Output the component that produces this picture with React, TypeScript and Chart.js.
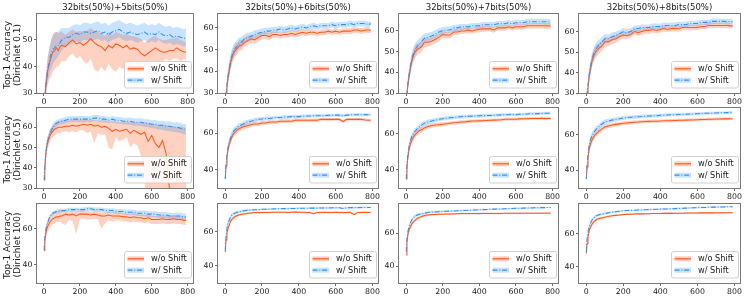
import React, { useEffect, useRef } from "react";
import { Chart, registerables } from "chart.js";

Chart.register(...registerables);

// ---------- data ----------
const ROUNDS = [1, 5, 10, 15, 20, 30, 40, 50, 60, 70, 80, 90, 100,
  120, 140, 160, 180, 200, 220, 240, 260, 280, 300,
  320, 340, 360, 380, 400, 420, 440, 460, 480, 500,
  520, 540, 560, 580, 600, 620, 640, 660, 680, 700,
  720, 740, 760, 780, 790];

const X_TICKS = [0, 200, 400, 600, 800];
const TITLES = ["32bits(50%)+5bits(50%)", "32bits(50%)+6bits(50%)", "32bits(50%)+7bits(50%)", "32bits(50%)+8bits(50%)"];
const ROW_LABELS = [["Top-1 Accuracy", "(Dirichlet 0.1)"], ["Top-1 Accuracy", "(Dirichlet 0.5)"], ["Top-1 Accuracy", "(Dirichlet 100)"]];
const SERIES_NAMES = ["w/o Shift", "w/ Shift"];

// Row 1 (Dirichlet 0.1)
const R1C1_WO = [25, 28, 32, 35, 38, 41, 43.5, 45.5, 46, 47, 46, 47.5, 48,
  47.5, 49, 50, 48.5, 49, 48, 49, 50.5, 49, 48,
  47.5, 46, 48, 47, 48.5, 48, 47, 48, 46.5, 47,
  46.5, 45, 44, 45, 46, 47, 46, 45.5, 45.5, 46,
  46, 47, 46, 45.5, 45.5];
const R1C1_WO_LO = [20, 24, 28, 31, 33, 35, 36, 38, 39, 40, 40, 41, 42,
  42, 44, 45, 43, 44, 42, 41, 43, 39, 38,
  40, 38, 41, 39, 38, 40, 39, 41, 40, 42,
  40, 41, 40, 41, 42, 42, 41, 42, 43, 42,
  43, 43, 42, 43, 42];
const R1C1_WO_HI = [30, 32, 36, 39, 43, 47, 50, 52, 53, 53, 52.5, 53, 53,
  52, 53, 54, 53, 53.5, 53, 53.5, 54.5, 53.5, 53,
  52.5, 51.5, 53, 52, 53, 52.5, 52, 52.5, 51.5, 51.5,
  51, 50.5, 49, 50, 51, 51.5, 50.5, 50, 50, 50.5,
  50.5, 51, 50, 49.5, 49];
const R1C1_W = [25, 28.5, 32.5, 35.5, 38.5, 42, 45, 46.5, 47, 48, 48, 49, 50,
  51, 51, 52, 52.5, 52, 53, 53, 52.5, 53, 53.5,
  52.5, 53, 52, 53, 53.5, 54, 53, 52.5, 53, 52.5,
  52, 52.5, 53, 52, 52.5, 52, 53, 52, 51.5, 52,
  51, 51.5, 51, 50.5, 51];
const R1C1_W_LO = [21, 25, 29, 32, 34, 37, 39, 41, 42, 43, 44, 45, 46,
  47.5, 48, 49, 49.5, 49, 50, 50, 49.5, 50, 50.5,
  49.5, 50, 49, 50, 50.5, 51, 50, 49.5, 50, 49.5,
  49, 49.5, 50, 49, 49.5, 49, 50, 49, 48.5, 49,
  48, 48.5, 48, 47.5, 48];
const R1C1_W_HI = [29, 32, 36, 39, 43, 47, 50, 52, 52.5, 53, 53, 54, 54.5,
  54.5, 54.5, 55.5, 56, 55.5, 56.5, 56.5, 56, 56.5, 57,
  56, 56.5, 55.5, 56.5, 57, 57.5, 56.5, 56, 56.5, 56,
  55.5, 56, 56.5, 55.5, 56, 55.5, 56.5, 55.5, 55, 55.5,
  54.5, 55, 54.5, 54, 54.5];

const R1C2_WO = [24, 29, 33, 36.5, 39, 44, 47, 49, 50, 51, 52, 52, 53,
  54, 55, 54.5, 55.5, 56.5, 56.5, 56, 57, 57, 56.5,
  57, 57, 57.5, 57, 57.5, 58, 57.5, 58, 58, 57.5,
  58, 58, 58.5, 58, 58.5, 58, 58.5, 58.5, 58.5, 59,
  59, 58.5, 59, 59, 58.8];
const R1C2_W = [24, 29.5, 33.5, 37.5, 40, 45, 48, 50, 51, 52.5, 53, 53.5, 54.5,
  55.5, 56, 57, 57.5, 58, 58.5, 58.5, 59, 59, 59.5,
  59, 59.5, 60, 59.5, 60, 60.5, 60, 60.5, 61, 60.5,
  61, 61, 61, 61.5, 61, 61.5, 61.5, 61.5, 62, 61.5,
  62, 62, 62, 61.5, 62];
const R1C3_WO = [24, 30, 34, 37, 40, 45, 48, 50, 51, 51.5, 52, 53, 54.5,
  54.5, 55, 56, 57, 58.3, 58, 58, 59.5, 59.5, 60,
  60, 60.5, 60, 60.5, 60.8, 61, 61, 61, 60.5, 61.5,
  61.5, 61.5, 62, 61.5, 62, 62, 62, 62.5, 62.5, 62.5,
  62.5, 62.5, 62.5, 62.5, 62.4];
const R1C3_W = [24, 30.5, 34.5, 38, 41, 46, 49, 51, 52.5, 53.5, 54.5, 55.5, 56.5,
  57, 57.5, 58.5, 59.5, 60.2, 60.5, 60.5, 61.5, 61.5, 62,
  62, 62, 62.5, 62.5, 62.5, 63, 63, 63, 63, 63.5,
  63.5, 63.5, 64, 63.5, 64, 64, 64, 64.5, 64.5, 64.5,
  64.5, 64.5, 64.5, 64.5, 64.2];
const R1C4_WO = [24, 29.5, 33, 37, 40, 45, 48, 50, 51, 52, 52.5, 53.5, 55,
  55, 56, 56.5, 57.5, 58.3, 58, 58.5, 60, 59.5, 60,
  60.5, 60.5, 61, 60.5, 61, 61.5, 61, 61.5, 61.5, 61.5,
  62, 62, 62, 62, 62, 62.5, 62.5, 63, 63, 63,
  63, 63, 63, 62.8, 62.8];
const R1C4_W = [24, 30, 34, 38, 41, 46, 49, 51, 52.5, 53.5, 54.5, 55.5, 56.5,
  56.5, 57.5, 58, 59, 60, 59.5, 60, 61.5, 61.5, 62,
  62, 62, 62.5, 62.5, 62.5, 63, 63, 63, 63, 63.5,
  63.5, 63.5, 64, 64, 64, 64.5, 64.5, 64.5, 65, 65,
  65, 65, 64.8, 65, 64.8];
const ERR_R1 = [2, 2.5, 3, 3, 3, 3, 3, 3, 2.8, 2.6, 2.5, 2.4, 2.3,
  2.1, 2, 1.9, 1.8, 1.7, 1.6, 1.6, 1.5, 1.5, 1.5,
  1.4, 1.5, 1.4, 1.4, 1.5, 1.4, 1.3, 1.4, 1.4, 1.3,
  1.3, 1.4, 1.3, 1.3, 1.4, 1.3, 1.3, 1.3, 1.4, 1.3,
  1.3, 1.3, 1.4, 1.3, 1.3];

// Row 2 (Dirichlet 0.5)
const R2C1_WO = [34, 40, 46, 50, 52, 55, 57, 58, 59, 59.5, 60, 60, 60,
  60.5, 60.5, 61, 60.5, 61, 61.5, 61, 61.5, 60.5, 61,
  60, 60.5, 59.5, 58, 59, 58, 58.5, 59, 57, 58.5,
  57.5, 56.5, 57.5, 53, 56, 52, 50, 53.5, 47, 28,
  20, 16, 13, 11, 10];
const R2C1_WO_LO = [32, 37, 43, 47, 49, 52, 54, 55, 56, 56.5, 57, 57, 57.5,
  58, 57.5, 58, 57.5, 58.5, 58.5, 57, 58, 52, 57,
  56, 56.5, 50, 49, 55, 53, 54, 55, 50, 52,
  51, 46, 36, 0, 0, 0, 0, 0, 0, 0,
  0, 0, 0, 0, 0];
const R2C1_WO_HI = [36, 43, 49, 53, 55, 58, 60, 61, 62, 62.5, 63, 63, 63.5,
  63.5, 63.5, 64, 63.5, 64, 64, 63.5, 64, 63.5, 63.5,
  63.5, 63.5, 63, 63, 63, 62.5, 62.5, 63, 62.5, 62.5,
  62.5, 62, 62.5, 62, 61.5, 61.5, 61, 61.5, 61, 60.5,
  60.5, 60, 60.5, 60, 59.5];
const R2C1_W = [34, 40, 46.5, 50.5, 53, 56, 58, 60, 61, 62, 62.5, 63, 63,
  63.5, 64, 64, 64, 64, 64, 64, 64, 64.5, 64.5,
  64, 64, 63.5, 64, 63.5, 63.5, 63, 63, 63, 62.5,
  62.5, 62.5, 62, 62, 61.5, 61.5, 61, 61, 60.5, 60.5,
  60, 60, 59.5, 59, 59];
const ERR_R2C1_W = [2, 3, 3, 2.5, 2.5, 2, 2, 2, 1.8, 1.6, 1.5, 1.5, 1.5,
  1.5, 1.4, 1.5, 1.4, 1.5, 1.5, 1.4, 1.5, 1.5, 1.5,
  1.5, 1.6, 1.5, 1.6, 1.6, 1.7, 1.7, 1.7, 1.8, 1.8,
  1.8, 1.9, 1.9, 2, 2, 2.1, 2.1, 2.2, 2.3, 2.4,
  2.4, 2.5, 2.5, 2.6, 2.6];

const R2C2_WO = [35, 42, 47, 50.5, 53, 56, 58.5, 60, 61, 62, 62.5, 63, 63.5,
  64, 64.5, 65, 65, 65.5, 65.5, 66, 66, 66, 66.5,
  66.5, 66.5, 66.5, 67, 67, 67, 67, 67, 67, 67,
  67.5, 67.5, 67.5, 67.5, 67.5, 67.5, 66.3, 67.5, 67.5, 67.5,
  67.5, 67.5, 67.2, 67, 67];
const R2C2_W = [35, 43, 48, 51.5, 54, 57.5, 60, 61.5, 62.5, 63.5, 64, 64.5, 65,
  66, 66.5, 67, 67.5, 67.7, 68, 68, 68.3, 68.5, 68.5,
  68.7, 68.8, 69, 69, 69, 69.2, 69.3, 69.3, 69.5, 69.5,
  69.5, 69.5, 69.7, 69.7, 69.8, 69.8, 69.5, 69.8, 70, 70,
  70, 70, 70.1, 70, 70];
const R2C3_WO = [35, 42, 47, 50.5, 53, 56, 58, 59.5, 60.5, 61.5, 62, 62.5, 63.2,
  64, 64.5, 64.8, 65, 65.2, 65.5, 65.8, 66, 66.2, 66.5,
  66.5, 66.8, 67, 67, 67.1, 67.2, 67.3, 67.4, 67.5, 67.6,
  67.7, 68, 68, 68, 68, 68.2, 68.3, 68.3, 68.4, 68.4,
  68.4, 68.5, 68.4, 68.4, 68.4];
const R2C3_W = [35, 43, 48, 52, 55, 58, 60, 61.5, 62.5, 63.5, 64.5, 65, 65.8,
  66.5, 67, 67.5, 68, 68.3, 68.5, 68.8, 69, 69.2, 69.4,
  69.5, 69.6, 69.7, 69.8, 69.9, 70, 70, 70.1, 70.2, 70.3,
  70.4, 70.5, 70.5, 70.6, 70.5, 70.7, 70.8, 70.9, 71, 71,
  71.1, 71.2, 71.3, 71.3, 71.4];
const R2C4_WO = [35, 42, 47, 51, 53.5, 56.5, 58.5, 60, 61, 62, 62.8, 63.5, 64.2,
  64.8, 65.3, 65.7, 66, 66.3, 66.5, 66.7, 66.9, 67, 67.2,
  67.3, 67.4, 67.5, 67.5, 67.6, 67.7, 67.8, 67.8, 67.9, 68,
  68, 68.1, 68.2, 68.2, 68.3, 68.4, 68.5, 68.6, 68.6, 68.7,
  68.7, 68.8, 68.8, 68.9, 68.9];
const R2C4_W = [35, 43, 48.5, 53, 56, 59, 61, 62.5, 63.5, 64.5, 65.5, 66.2, 67,
  67.6, 68.1, 68.5, 68.9, 69.3, 69.5, 69.7, 69.9, 70, 70.1,
  70.3, 70.4, 70.5, 70.6, 70.8, 70.9, 71, 71.1, 71.1, 71.2,
  71.3, 71.4, 71.5, 71.6, 71.7, 71.8, 71.9, 72, 72, 72.1,
  72.2, 72.2, 72.3, 72.4, 72.4];
const ERR_R2 = [2, 2.5, 2.5, 2.5, 2.3, 2, 1.8, 1.7, 1.6, 1.5, 1.5, 1.4, 1.4,
  1.3, 1.2, 1.2, 1.1, 1.1, 1.1, 1, 1, 1, 1,
  1, 1, 0.9, 1, 0.9, 0.9, 0.9, 0.9, 0.9, 0.9,
  0.9, 0.8, 0.9, 0.8, 0.8, 0.9, 0.8, 0.8, 0.8, 0.8,
  0.8, 0.8, 0.8, 0.8, 0.8];

// Row 3 (Dirichlet 100)
const R3C1_WO = [48, 53, 57, 59.5, 61, 63, 64.5, 65.5, 66, 66.5, 66.5, 67, 67,
  68, 67.5, 68, 67, 68, 68, 68, 67.5, 68, 67.5,
  67, 67, 67.5, 67, 67, 67, 66.5, 66.5, 66, 66.5,
  66, 66, 65.5, 66, 65, 65, 65, 65.5, 65, 65,
  65.5, 65, 65, 64.5, 64.5];
const R3C1_WO_LO = [46, 50, 54, 56.5, 58, 60, 61.5, 62.5, 63, 63.5, 63.5, 64, 63,
  62, 65, 64, 57, 65.5, 65.5, 65, 65, 65.5, 65,
  60, 63, 64.5, 64, 64.5, 64.5, 64, 64, 63.5, 64,
  63.5, 63.5, 63, 63.5, 62.5, 62.5, 62.5, 63, 62.5, 62.5,
  63, 62.5, 62.5, 62, 62];
const R3C1_WO_HI = [50, 56, 60, 62.5, 64, 66, 67.5, 68.5, 69, 69.5, 69.5, 70, 70,
  70, 69.5, 70, 69.5, 70, 70, 70, 69.5, 70, 69.5,
  69, 69, 69.5, 69, 69, 69, 68.5, 68.5, 68, 68.5,
  68, 68, 67.5, 68, 67, 67, 67, 67.5, 67, 67,
  67.5, 67, 67, 66.5, 66.5];
const R3C1_W = [48, 55, 59, 61.5, 63, 66, 67.5, 68.5, 69, 69.5, 69.5, 70, 70,
  70, 70.5, 70.5, 70.5, 70.5, 70.5, 71, 71, 70.5, 70.5,
  70.5, 70, 70, 70, 69.5, 69.5, 69.5, 69, 69, 69,
  68.5, 68.5, 68.5, 68, 68, 68, 67.5, 67.5, 67.5, 67,
  67, 67, 67, 66.5, 66.5];
const ERR_R3C1_W = [1, 1.5, 1.5, 1.3, 1.2, 1, 1, 1, 1, 1, 1, 1, 1,
  1, 1, 1, 1, 1, 1.1, 1.1, 1.1, 1.1, 1.2,
  1.2, 1.2, 1.3, 1.3, 1.3, 1.4, 1.4, 1.4, 1.5, 1.5,
  1.5, 1.5, 1.6, 1.6, 1.6, 1.7, 1.7, 1.7, 1.8, 1.8,
  1.8, 1.8, 1.9, 1.9, 1.9];

const R3C2_WO = [48, 55, 59, 61.5, 63, 66, 67.5, 68.5, 69, 69.5, 69.8, 70, 70.2,
  70.5, 70.8, 71, 71, 71, 71.1, 71.1, 71.2, 71.2, 71.2,
  71.2, 71.1, 71.2, 71.3, 71.2, 71.2, 71.1, 71.1, 70.3, 71.1,
  71.1, 71.2, 71.1, 71.1, 71.2, 71.1, 71.1, 71.1, 71.2, 69.8,
  71.1, 71.1, 71.2, 71.1, 71.1];
const R3C2_W = [49, 57, 62, 64.5, 66, 68.5, 70, 70.5, 71, 71.3, 71.5, 71.8, 72,
  72.3, 72.5, 72.6, 72.7, 72.9, 73, 73, 73.1, 73.2, 73.2,
  73.3, 73.3, 73.4, 73.4, 73.5, 73.5, 73.5, 73.6, 73.6, 73.6,
  73.7, 73.7, 73.7, 73.8, 73.8, 73.8, 73.4, 73.8, 73.9, 73.9,
  73.9, 74, 74, 74, 74];
const R3C3_WO = [47, 55, 59, 61.5, 63, 65.5, 67, 68, 69, 69.5, 70, 70.4, 70.8,
  71.2, 71.4, 71.5, 71.6, 71.6, 71.7, 71.8, 71.8, 71.9, 72,
  72, 72, 72, 72, 72, 72.1, 72.1, 72.1, 72.1, 72.1,
  72.1, 72.2, 72.2, 72.2, 72.2, 72.2, 72.2, 72.2, 72.2, 72.2,
  72.2, 72.2, 72.2, 72.2, 72.2];
const R3C3_W = [49, 57, 61, 63.5, 65.5, 68, 69.5, 70.5, 71, 71.5, 71.8, 72, 72.2,
  72.6, 72.9, 73, 73.2, 73.3, 73.4, 73.5, 73.6, 73.7, 73.8,
  73.9, 74, 74.1, 74.2, 74.3, 74.4, 74.5, 74.6, 74.7, 74.8,
  74.8, 74.9, 75, 75.1, 75.2, 75.2, 75.3, 75.4, 75.4, 75.5,
  75.5, 75.6, 75.6, 75.7, 75.7];
const R3C4_WO = [48, 54, 58, 61, 63, 65.5, 67, 68, 68.7, 69.2, 69.5, 69.7, 69.9,
  70.4, 70.8, 71.1, 71.3, 71.6, 71.7, 71.8, 71.9, 72, 72,
  72.1, 72.1, 72.2, 72.2, 72.2, 72.3, 72.3, 72.3, 72.4, 72.4,
  72.4, 72.5, 72.5, 72.5, 72.5, 72.6, 72.6, 72.6, 72.6, 72.7,
  72.7, 72.7, 72.7, 72.7, 72.7];
const R3C4_W = [49, 57, 61, 63.5, 65.5, 68, 69.5, 70.5, 71, 71.5, 71.8, 72, 72.2,
  72.7, 73, 73.3, 73.6, 73.9, 74, 74.1, 74.2, 74.3, 74.4,
  74.5, 74.6, 74.7, 74.8, 74.9, 75, 75, 75.1, 75.2, 75.3,
  75.4, 75.5, 75.6, 75.7, 75.8, 75.9, 75.9, 76, 76.1, 76.1,
  76.2, 76.2, 76.3, 76.3, 76.3];
const ERR_R3 = [1.5, 2, 1.8, 1.5, 1.3, 1.1, 1, 0.9, 0.8, 0.8, 0.7, 0.7, 0.7,
  0.6, 0.6, 0.6, 0.6, 0.5, 0.5, 0.5, 0.5, 0.5, 0.5,
  0.5, 0.5, 0.5, 0.5, 0.5, 0.5, 0.5, 0.5, 0.5, 0.5,
  0.5, 0.5, 0.5, 0.5, 0.5, 0.5, 0.5, 0.5, 0.5, 0.5,
  0.5, 0.5, 0.5, 0.5, 0.5];

const Y_MAX = [[59.8, 66.4, 68.2, 68.6], [69.5, 73.7, 74.2, 74.9], [73.6, 76, 77.8, 78]];
const Y_TICKS = [
  [[30, 40, 50], [30, 40, 50, 60], [30, 40, 50, 60], [30, 40, 50, 60]],
  [[30, 40, 50, 60], [40, 60], [40, 60], [40, 60]],
  [[40, 60], [40, 60], [40, 60], [40, 60]],
];

// ---------- build panels ----------
const lo = (m: number[], e: number[]) => m.map((v, i) => v - e[i]);
const hi = (m: number[], e: number[]) => m.map((v, i) => v + e[i]);
const calm = (wo: number[], w: number[], e: number[]) => ({
  wo: { mean: wo, lo: lo(wo, e), hi: hi(wo, e) },
  w: { mean: w, lo: lo(w, e), hi: hi(w, e) },
});

const SERIES = [
  [
    { wo: { mean: R1C1_WO, lo: R1C1_WO_LO, hi: R1C1_WO_HI }, w: { mean: R1C1_W, lo: R1C1_W_LO, hi: R1C1_W_HI } },
    calm(R1C2_WO, R1C2_W, ERR_R1),
    calm(R1C3_WO, R1C3_W, ERR_R1),
    calm(R1C4_WO, R1C4_W, ERR_R1),
  ],
  [
    { wo: { mean: R2C1_WO, lo: R2C1_WO_LO, hi: R2C1_WO_HI }, w: { mean: R2C1_W, lo: lo(R2C1_W, ERR_R2C1_W), hi: hi(R2C1_W, ERR_R2C1_W) } },
    calm(R2C2_WO, R2C2_W, ERR_R2),
    calm(R2C3_WO, R2C3_W, ERR_R2),
    calm(R2C4_WO, R2C4_W, ERR_R2),
  ],
  [
    { wo: { mean: R3C1_WO, lo: R3C1_WO_LO, hi: R3C1_WO_HI }, w: { mean: R3C1_W, lo: lo(R3C1_W, ERR_R3C1_W), hi: hi(R3C1_W, ERR_R3C1_W) } },
    calm(R3C2_WO, R3C2_W, ERR_R3),
    calm(R3C3_WO, R3C3_W, ERR_R3),
    calm(R3C4_WO, R3C4_W, ERR_R3),
  ],
];

// ---------- layout / style ----------
const W = 747, H = 299;
const COL_L = [37, 218, 399, 579];
const COL_R = [193, 378, 558, 740];
const ROW_T = [14, 108, 204];
const ROW_B = [93, 188, 283];
const YW = 30, XH = 14;
const FONT = '"DejaVu Sans", sans-serif';
const ORANGE = "#ff5a1e";
const BLUE = "#3190f5";
const ORANGE_BAND = "rgba(255,90,30,0.28)";
const BLUE_BAND = "rgba(30,144,255,0.25)";
const DASH = [5, 1.8, 1, 1.8];

const pts = (arr: number[]) => arr.map((y, i) => ({ x: ROUNDS[i], y }));

function makeConfig(r: number, c: number): any {
  const s = SERIES[r][c];
  const yticks = Y_TICKS[r][c];
  const decor = {
    id: "decor" + r + c,
    afterDatasetsDraw(chart: any) {
      const { ctx, chartArea: a } = chart;
      ctx.save();
      ctx.strokeStyle = "#7a7a7a";
      ctx.lineWidth = 1;
      ctx.strokeRect(Math.round(a.left) - 0.5, Math.round(a.top) - 0.5, Math.round(a.right - a.left) + 1, Math.round(a.bottom - a.top) + 1);
      ctx.restore();
    },
    afterDraw(chart: any) {
      const { ctx, chartArea: a } = chart;
      ctx.save();
      ctx.fillStyle = "#1a1a1a";
      if (r === 0) {
        ctx.font = `8.5px ${FONT}`;
        ctx.textAlign = "center";
        ctx.textBaseline = "middle";
        ctx.fillText(TITLES[c], (a.left + a.right) / 2, a.top - 6.5);
      }
      if (c === 0) {
        const cy = (a.top + a.bottom) / 2 + 1.5;
        ctx.font = `9px ${FONT}`;
        ctx.textAlign = "center";
        ctx.textBaseline = "middle";
        [8, 17.5].forEach((x, i) => {
          ctx.save();
          ctx.translate(x, cy);
          ctx.rotate(-Math.PI / 2);
          ctx.fillText(ROW_LABELS[r][i], 0, 0);
          ctx.restore();
        });
      }
      // legend
      const bw = 67, bh = 26.5;
      const bx = a.right - 2 - bw, by = a.bottom - 5.5 - bh;
      ctx.beginPath();
      (ctx as any).roundRect(bx + 0.5, by + 0.5, bw, bh, 2);
      ctx.fillStyle = "rgba(255,255,255,0.85)";
      ctx.fill();
      ctx.strokeStyle = "#d0d0d0";
      ctx.lineWidth = 1;
      ctx.stroke();
      const rows = [by + 7.8, by + 19.2];
      const colors = [ORANGE, BLUE];
      const bands = [ORANGE_BAND, BLUE_BAND];
      rows.forEach((y, i) => {
        ctx.fillStyle = bands[i];
        ctx.fillRect(bx + 3.5, y - 2.5, 16.5, 5);
        ctx.beginPath();
        ctx.setLineDash(i === 1 ? DASH : []);
        ctx.strokeStyle = colors[i];
        ctx.lineWidth = 1.2;
        ctx.moveTo(bx + 3.5, y);
        ctx.lineTo(bx + 20, y);
        ctx.stroke();
        ctx.setLineDash([]);
        ctx.fillStyle = "#1a1a1a";
        ctx.font = `8.2px ${FONT}`;
        ctx.textAlign = "left";
        ctx.textBaseline = "middle";
        ctx.fillText(SERIES_NAMES[i], bx + 27, y + 0.3);
      });
      ctx.restore();
    },
  };

  const bandDs = (arr: number[], fill: any, color: string, order: number) => ({
    data: pts(arr), borderWidth: 0, borderColor: "transparent", backgroundColor: color,
    pointRadius: 0, fill, order,
  });

  return {
    type: "line",
    data: {
      datasets: [
        bandDs(s.wo.lo, false, "transparent", 5),
        bandDs(s.wo.hi, "-1", ORANGE_BAND, 5),
        bandDs(s.w.lo, false, "transparent", 4),
        bandDs(s.w.hi, "-1", BLUE_BAND, 4),
        { data: pts(s.wo.mean), borderColor: ORANGE, borderWidth: 1.05, pointRadius: 0, fill: false, order: 1 },
        { data: pts(s.w.mean), borderColor: BLUE, borderWidth: 1.05, borderDash: DASH, pointRadius: 0, fill: false, order: 0 },
      ],
    },
    options: {
      animation: false,
      responsive: false,
      devicePixelRatio: 1,
      events: [],
      layout: {
        padding: { left: COL_L[c] - YW, top: ROW_T[r], right: W - COL_R[c], bottom: H - ROW_B[r] - XH },
      },
      elements: { point: { radius: 0 }, line: { tension: 0 } },
      plugins: { legend: { display: false }, tooltip: { enabled: false }, title: { display: false } },
      scales: {
        x: {
          type: "linear",
          min: -38.5,
          max: 829.5,
          afterBuildTicks: (sc: any) => { sc.ticks = X_TICKS.map((v) => ({ value: v })); },
          afterFit: (sc: any) => { sc.height = XH; },
          grid: { drawOnChartArea: false, drawTicks: true, tickLength: 3, color: "#444", lineWidth: 0.8 },
          border: { display: false },
          ticks: { font: { family: FONT, size: 7.8 }, color: "#1a1a1a", padding: 1, maxRotation: 0, autoSkip: false },
        },
        y: {
          type: "linear",
          min: 30,
          max: Y_MAX[r][c],
          afterBuildTicks: (sc: any) => { sc.ticks = yticks.map((v) => ({ value: v })); },
          afterFit: (sc: any) => { sc.width = YW; },
          grid: { drawOnChartArea: false, drawTicks: true, tickLength: 3, color: "#444", lineWidth: 0.8 },
          border: { display: false },
          ticks: { font: { family: FONT, size: 7.8 }, color: "#1a1a1a", padding: 1.5, autoSkip: false },
        },
      },
    },
    plugins: [decor],
  };
}

function Panel({ r, c }: { r: number; c: number }) {
  const ref = useRef<HTMLCanvasElement>(null);
  useEffect(() => {
    const chart = new Chart(ref.current as HTMLCanvasElement, makeConfig(r, c));
    return () => chart.destroy();
  }, [r, c]);
  return (
    <canvas
      ref={ref}
      width={W}
      height={H}
      style={{ position: "absolute", left: 0, top: 0, width: W, height: H }}
    />
  );
}

export default function App() {
  useEffect(() => {
    document.body.style.margin = "0";
    document.body.style.overflow = "hidden";
  }, []);
  const cells: any[] = [];
  for (let r = 0; r < 3; r++) for (let c = 0; c < 4; c++) cells.push(<Panel key={`${r}-${c}`} r={r} c={c} />);
  return (
    <div style={{ position: "absolute", left: 0, top: 0, width: W, height: H, background: "#fff", overflow: "hidden" }}>
      {cells}
    </div>
  );
}
